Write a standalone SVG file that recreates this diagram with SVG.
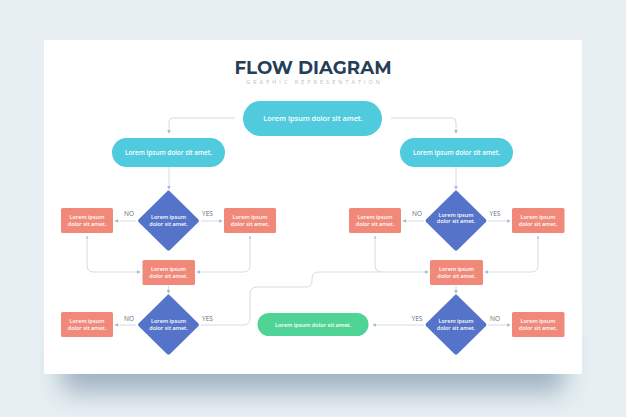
<svg xmlns="http://www.w3.org/2000/svg" width="626" height="417" viewBox="0 0 626 417">
<defs>
<filter id="sh" x="-20%" y="-50%" width="140%" height="200%"><feGaussianBlur stdDeviation="13"/></filter>
<marker id="ar" viewBox="0 0 6 6" refX="5" refY="3" markerWidth="4" markerHeight="4" markerUnits="userSpaceOnUse" orient="auto-start-reverse"><path d="M0,0 L6,3 L0,6 z" fill="#aebbc6"/></marker>
<marker id="as" viewBox="0 0 6 6" refX="5" refY="3" markerWidth="3" markerHeight="3" markerUnits="userSpaceOnUse" orient="auto-start-reverse"><path d="M0,0 L6,3 L0,6 z" fill="#bcc7d0"/></marker>
<style>
.c{fill:none;stroke:#d3dce3;stroke-width:1}
.pill{fill:#50cbdd}
.dia{fill:#5574c9}
.rec{fill:#f0897a}
.grn{fill:#4fd495}
.t{font-family:"Open Sans","Liberation Sans",sans-serif;fill:#fff;font-weight:600;text-anchor:middle}
.lb{font-family:"Open Sans","Liberation Sans",sans-serif;fill:#5f6c78;font-size:6.5px;text-anchor:middle}
</style>
</defs>
<rect width="626" height="417" fill="#e7eff3"/>
<rect x="62" y="330" width="502" height="62" fill="#9fb1c1" filter="url(#sh)"/>
<rect x="44" y="40" width="538" height="334" fill="#ffffff"/>
<text x="313" y="74" font-family="Montserrat,'Open Sans','Liberation Sans',sans-serif" font-weight="700" font-size="18" fill="#263f57" text-anchor="middle" textLength="157" lengthAdjust="spacingAndGlyphs">FLOW DIAGRAM</text>
<text x="313" y="83.5" font-family="'Open Sans','Liberation Sans',sans-serif" font-size="5.5" fill="#b7c0c8" text-anchor="middle" textLength="134" lengthAdjust="spacing">GRAPHIC REPRESENTATION</text>

<g id="connectors" marker-end="url(#ar)">
<path class="c" d="M235,118 H173 Q169,118 169,122 V133"/>
<path class="c" d="M391,118 H452 Q456,118 456,122 V133"/>
<path class="c" d="M169,167 V189"/>
<path class="c" d="M456,167 V189"/>
<path class="c" d="M136,221 H115"/>
<path class="c" d="M201,221 H222"/>
<path class="c" d="M424,221 H403"/>
<path class="c" d="M488,221 H510"/>
<path class="c" d="M87,236 V265 Q87,272 94,272 H140" marker-start="url(#as)"/>
<path class="c" d="M250,236 V265 Q250,272 243,272 H197" marker-start="url(#as)"/>
<path class="c" d="M375,236 V265 Q375,272 382,272 H428" marker-start="url(#as)"/>
<path class="c" d="M538,236 V265 Q538,272 531,272 H485" marker-start="url(#as)"/>
<path class="c" d="M168.5,286 V293"/>
<path class="c" d="M456,286 V293"/>
<path class="c" d="M136,325 H115"/>
<path class="c" d="M201,325 H243 Q250,325 250,318 V294 Q250,287 257,287 H306 Q312,287 312,281 V279 Q312,272 319,272 H380" marker-end="none"/>
<path class="c" d="M424,325 H373"/>
<path class="c" d="M488,325 H510"/>
</g>

<g id="n-top"><rect class="pill" x="243" y="101" width="139" height="35" rx="17.5"/><text class="t" x="313" y="120.5" font-size="7.3">Lorem ipsum dolor sit amet.</text></g>
<g id="n-left"><rect class="pill" x="112" y="138" width="113" height="29" rx="14.5"/><text class="t" x="168.5" y="155" font-size="6.4">Lorem ipsum dolor sit amet.</text></g>
<g id="n-right"><rect class="pill" x="400" y="138" width="113" height="29" rx="14.5"/><text class="t" x="456.5" y="155" font-size="6.4">Lorem ipsum dolor sit amet.</text></g>

<g id="d-left1"><path class="dia" d="M168.5,190.5 Q169.5,190.5 170,191.5 L198.5,219.5 Q199.5,220.7 198.5,222 L170,250 Q168.5,251.5 167,250 L138.5,222 Q137.5,220.7 138.5,219.5 L167,191.5 Q167.5,190.5 168.5,190.5 z"/><text class="t" x="168.5" y="219" font-size="5.5">Lorem ipsum</text><text class="t" x="168.5" y="225.5" font-size="5.5">dolor sit amet.</text></g>
<g id="d-right1"><path class="dia" d="M456,190.5 Q457,190.5 457.5,191.5 L486,219.5 Q487,220.7 486,222 L457.5,250 Q456,251.5 454.5,250 L426,222 Q425,220.7 426,219.5 L454.5,191.5 Q455,190.5 456,190.5 z"/><text class="t" x="456" y="216.5" font-size="5.5">Lorem ipsum</text><text class="t" x="456" y="223" font-size="5.5">dolor sit amet.</text></g>
<g id="d-left2"><path class="dia" d="M168.5,294.5 Q169.5,294.5 170,295.5 L198.5,323.5 Q199.5,324.7 198.5,326 L170,354 Q168.5,355.5 167,354 L138.5,326 Q137.5,324.7 138.5,323.5 L167,295.5 Q167.5,294.5 168.5,294.5 z"/><text class="t" x="168.5" y="323" font-size="5.5">Lorem ipsum</text><text class="t" x="168.5" y="329.5" font-size="5.5">dolor sit amet.</text></g>
<g id="d-right2"><path class="dia" d="M456,294.5 Q457,294.5 457.5,295.5 L486,323.5 Q487,324.7 486,326 L457.5,354 Q456,355.5 454.5,354 L426,326 Q425,324.7 426,323.5 L454.5,295.5 Q455,294.5 456,294.5 z"/><text class="t" x="456" y="323" font-size="5.5">Lorem ipsum</text><text class="t" x="456" y="329.5" font-size="5.5">dolor sit amet.</text></g>

<g id="r-l-no"><rect class="rec" x="61" y="208" width="52" height="25" rx="1.5"/><text class="t" x="87" y="219" font-size="5.5">Lorem ipsum</text><text class="t" x="87" y="225.5" font-size="5.5">dolor sit amet.</text></g>
<g id="r-l-yes"><rect class="rec" x="224" y="208" width="52" height="25" rx="1.5"/><text class="t" x="250" y="219" font-size="5.5">Lorem ipsum</text><text class="t" x="250" y="225.5" font-size="5.5">dolor sit amet.</text></g>
<g id="r-l-mid"><rect class="rec" x="142.5" y="260" width="52.5" height="25" rx="1.5"/><text class="t" x="168.5" y="271" font-size="5.5">Lorem ipsum</text><text class="t" x="168.5" y="277.5" font-size="5.5">dolor sit amet.</text></g>
<g id="r-l-no2"><rect class="rec" x="61" y="312" width="52" height="25" rx="1.5"/><text class="t" x="87" y="323" font-size="5.5">Lorem ipsum</text><text class="t" x="87" y="329.5" font-size="5.5">dolor sit amet.</text></g>
<g id="r-r-no"><rect class="rec" x="349" y="208" width="52" height="25" rx="1.5"/><text class="t" x="375" y="219" font-size="5.5">Lorem ipsum</text><text class="t" x="375" y="225.5" font-size="5.5">dolor sit amet.</text></g>
<g id="r-r-yes"><rect class="rec" x="512" y="208" width="52.5" height="25" rx="1.5"/><text class="t" x="538" y="219" font-size="5.5">Lorem ipsum</text><text class="t" x="538" y="225.5" font-size="5.5">dolor sit amet.</text></g>
<g id="r-r-mid"><rect class="rec" x="430" y="260" width="53" height="25" rx="1.5"/><text class="t" x="456.5" y="271" font-size="5.5">Lorem ipsum</text><text class="t" x="456.5" y="277.5" font-size="5.5">dolor sit amet.</text></g>
<g id="r-r-no2"><rect class="rec" x="512" y="312" width="52.5" height="25" rx="1.5"/><text class="t" x="538" y="323" font-size="5.5">Lorem ipsum</text><text class="t" x="538" y="329.5" font-size="5.5">dolor sit amet.</text></g>
<g id="n-green"><rect class="grn" x="257.5" y="313" width="111" height="23" rx="11.5"/><text class="t" x="313" y="326.5" font-size="5.6">Lorem ipsum dolor sit amet.</text></g>

<g id="labels">
<text class="lb" x="129" y="216">NO</text>
<text class="lb" x="207.5" y="216">YES</text>
<text class="lb" x="417" y="216">NO</text>
<text class="lb" x="495" y="216">YES</text>
<text class="lb" x="129" y="321">NO</text>
<text class="lb" x="207.5" y="321">YES</text>
<text class="lb" x="417" y="321">YES</text>
<text class="lb" x="495" y="321">NO</text>
</g>
</svg>
